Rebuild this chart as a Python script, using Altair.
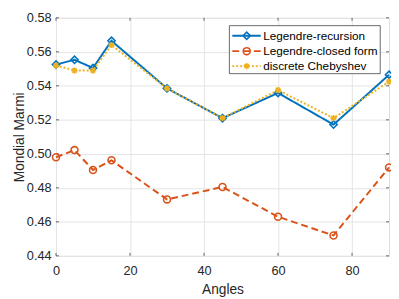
import altair as alt
import pandas as pd

angles = [0, 5, 10, 15, 30, 45, 60, 75, 90]
series_names = ["Legendre-recursion", "Legendre-closed form", "discrete Chebyshev"]
recursion = [0.5525, 0.5553, 0.5505, 0.5665, 0.5385, 0.5210, 0.5358, 0.5172, 0.5465]
closed_form = [0.4980, 0.5022, 0.4905, 0.4962, 0.4732, 0.4805, 0.4630, 0.4520, 0.4920]
chebyshev = [0.5520, 0.5490, 0.5490, 0.5640, 0.5385, 0.5210, 0.5375, 0.5210, 0.5425]
x_ticks = [0, 20, 40, 60, 80]
y_ticks = [0.44, 0.46, 0.48, 0.50, 0.52, 0.54, 0.56, 0.58]

colors = ["#0072BD", "#D95319", "#EDB120"]
dashes = [[1, 0], [7, 4], [2, 2]]
shapes = ["diamond", "circle", "M-1,0H1M0,-1V1M-0.7,-0.7L0.7,0.7M-0.7,0.7L0.7,-0.7"]
sizes = [55, 50, 40]

W, H = 340, 243
FONT = "Liberation Sans"
TXT = "#262626"

xs = alt.Scale(domain=[0, 90], nice=False, zero=False)
ys = alt.Scale(domain=[0.44, 0.58], nice=False, zero=False)

X_AX = alt.Axis(values=x_ticks, format="d", grid=True, ticks=False, domain=False,
                labelOverlap=False, labelFlush=False,
                labelFontSize=13, labelFont=FONT, labelColor=TXT, labelPadding=9,
                titleFont=FONT, titleFontSize=14, titleColor=TXT, titleFontWeight="normal",
                titleY=34, titleBaseline="middle", gridColor="#e3e3e3")
Y_AX = alt.Axis(values=y_ticks, format=".2f", grid=True, ticks=False, domain=False,
                labelOverlap=False, labelFlush=False,
                labelFontSize=13, labelFont=FONT, labelColor=TXT, labelPadding=5,
                titleFont=FONT, titleFontSize=14, titleColor=TXT, titleFontWeight="normal",
                titleX=-37, titleY=H / 2, titleBaseline="middle", titleAngle=270,
                gridColor="#e3e3e3")


def X(field):
    return alt.X(field, type="quantitative", scale=xs, axis=X_AX, title="Angles")


def Y(field):
    return alt.Y(field, type="quantitative", scale=ys, axis=Y_AX, title="Mondial Marmi")


base_df = pd.DataFrame({"a": [0]})
layers = []

# inward ticks
xt = pd.DataFrame({"t": x_ticks})
yt = pd.DataFrame({"t": y_ticks})
tick_color = "#262626"
layers.append(alt.Chart(xt).mark_rule(color=tick_color, strokeWidth=0.7).encode(
    x=X("t"), y=alt.value(H), y2=alt.value(H - 3)))
layers.append(alt.Chart(xt).mark_rule(color=tick_color, strokeWidth=0.7).encode(
    x=X("t"), y=alt.value(0), y2=alt.value(3)))
layers.append(alt.Chart(yt).mark_rule(color=tick_color, strokeWidth=0.7).encode(
    y=Y("t"), x=alt.value(0), x2=alt.value(3)))
layers.append(alt.Chart(yt).mark_rule(color=tick_color, strokeWidth=0.7).encode(
    y=Y("t"), x=alt.value(W), x2=alt.value(W - 3)))

for name, vals, c, d, s, sz in zip(series_names, [recursion, closed_form, chebyshev], colors, dashes, shapes, sizes):
    df = pd.DataFrame({"angle": angles, "val": vals})
    b = alt.Chart(df).encode(x=X("angle"), y=Y("val"))
    layers.append(b.mark_line(color=c, strokeWidth=2, strokeDash=d))
    layers.append(b.mark_point(color=c, shape=s, size=sz, filled=False, strokeWidth=1.6, opacity=1))

# legend
lx0, lx1, ly0, ly1 = 177, 331, 8, 57
layers.append(alt.Chart(base_df).mark_rect(fill="white", stroke="#262626", strokeWidth=0.7).encode(
    x=alt.value(lx0), x2=alt.value(lx1), y=alt.value(ly0), y2=alt.value(ly1)))
rows = [18.3, 34, 49.3]
for name, c, d, s, sz, ry in zip(series_names, colors, dashes, shapes, sizes, rows):
    layers.append(alt.Chart(base_df).mark_rule(color=c, strokeWidth=2, strokeDash=d).encode(
        x=alt.value(180), x2=alt.value(209), y=alt.value(ry)))
    layers.append(alt.Chart(base_df).mark_point(color=c, shape=s, size=sz, filled=False, strokeWidth=1.6, opacity=1).encode(
        x=alt.value(194.7), y=alt.value(ry)))
    layers.append(alt.Chart(base_df).mark_text(align="left", baseline="middle", font=FONT, fontSize=12, color="#000000").encode(
        x=alt.value(211.5), y=alt.value(ry), text=alt.value(name)))

chart = alt.layer(*layers).properties(
    width=W, height=H,
    autosize=alt.AutoSizeParams(type="none"),
    padding={"left": 49, "top": 7, "right": 2, "bottom": 40},
).configure_view(stroke="#262626", strokeWidth=0.7).configure(background="white")

chart.save("out.html", embed_options={"renderer": "svg", "actions": False})
